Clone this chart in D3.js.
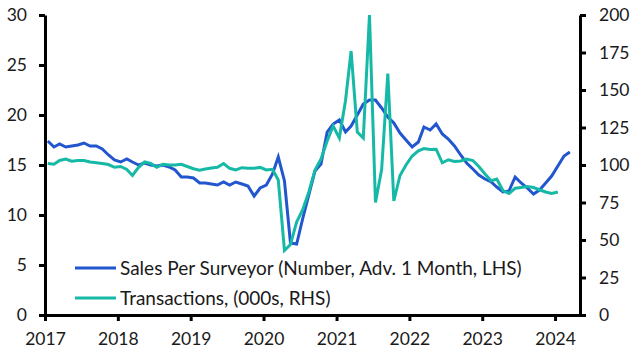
<!DOCTYPE html>
<html>
<head>
<meta charset="utf-8">
<script src="https://cdn.jsdelivr.net/npm/d3@7"></script>
<style>
  html, body { margin: 0; padding: 0; background: #fff; }
  svg { display: block; }
  text { font-family: Lato, "Open Sans", sans-serif; fill: #1a1a1a; }
</style>
</head>
<body>
<svg id="chart" width="643" height="364"></svg>
<script>
// ---- Data (monthly, starting Jan 2017) ----
const startMonth = "2017-01";
// Sales per surveyor (Number, advanced 1 month, LHS), Jan 2017 - Mar 2024
const salesPerSurveyor = [
  17.4, 16.8, 17.1, 16.8, 16.9, 17.0, 17.2, 16.9, 16.9, 16.6, 16.0, 15.5,
  15.3, 15.6, 15.3, 15.0, 15.2, 15.0, 14.9, 15.0, 14.8, 14.5, 13.8, 13.8,
  13.7, 13.2, 13.2, 13.1, 13.0, 13.3, 13.0, 13.3, 13.1, 12.9, 11.9, 12.7,
  13.0, 14.1, 15.8, 13.4, 7.2, 7.1, 9.6, 12.0, 14.4, 15.1, 18.3, 19.1,
  19.5, 18.3, 18.9, 20.0, 21.1, 21.5, 21.5, 20.7, 19.8, 19.2, 18.2, 17.5,
  16.8, 17.3, 18.8, 18.5, 19.1, 18.1, 17.6, 16.9, 16.0, 15.2, 14.6, 14.0,
  13.6, 13.3, 12.8, 12.3, 12.4, 13.8, 13.2, 12.7, 12.1, 12.5, 13.2, 13.9,
  14.9, 15.9, 16.3
];
// Transactions (000s, RHS), Jan 2017 - Jan 2024
const transactions = [
  101, 100.5, 103, 104, 102.5, 103, 103, 102, 101.5, 101, 100.3, 98.5,
  99, 97, 93, 98.5, 102, 101, 98.5, 100.5, 100, 100, 100.5, 99,
  97.5, 96.5, 97.3, 98, 98.5, 101, 97.8, 96.7, 98.2, 97.8, 97.9, 98.4,
  96.7, 97.1, 90, 43, 47, 62, 70, 82, 96.7, 104, 116, 126,
  118, 143, 176, 122, 118, 200, 75, 97, 161, 76, 93, 100,
  106, 109.5, 111, 110.4, 110.5, 101.5, 103.5, 102.3, 102.7, 104, 103, 99,
  94, 89.5, 90.7, 83, 81, 84.5, 85, 85.6, 85, 83.5, 82, 81,
  82
];
const xTickYears = [2017, 2018, 2019, 2020, 2021, 2022, 2023, 2024];
const leftTicks = [0, 5, 10, 15, 20, 25, 30];
const rightTicks = [0, 25, 50, 75, 100, 125, 150, 175, 200];
const seriesNames = ["Sales Per Surveyor (Number, Adv. 1 Month, LHS)", "Transactions, (000s, RHS)"];
const seriesColors = ["#2256cf", "#16b9a6"];

// ---- Layout ----
const svg = d3.select("#chart");
const L = 45, R = 580, T = 15, B = 315;

const parseMonth = d3.timeParse("%Y-%m");
const start = parseMonth(startMonth);
const monthDate = i => { const d = d3.timeMonth.offset(start, i); return new Date(d.getFullYear(), d.getMonth(), 15); };

const x = d3.scaleTime()
  .domain([new Date(2017, 0, 1), new Date(2024, 4, 5)])
  .range([L, R]);
const yL = d3.scaleLinear().domain([0, 30]).range([B, T]);
const yR = d3.scaleLinear().domain([0, 200]).range([B, T]);

const fontSize = 17.5;
const legendFontSize = 19;

// Lines
const lineL = d3.line().x((d, i) => x(monthDate(i))).y(d => yL(d));
const lineR = d3.line().x((d, i) => x(monthDate(i))).y(d => yR(d));

svg.append("path").datum(salesPerSurveyor)
  .attr("d", lineL).attr("fill", "none")
  .attr("stroke", seriesColors[0]).attr("stroke-width", 3);
svg.append("path").datum(transactions)
  .attr("d", lineR).attr("fill", "none")
  .attr("stroke", seriesColors[1]).attr("stroke-width", 3);

// Axes
function styleAxis(g) {
  g.select(".domain").attr("stroke", "#000").attr("stroke-width", 3);
  g.selectAll(".tick line").attr("stroke", "#000").attr("stroke-width", 3);
  g.selectAll(".tick text").attr("font-size", fontSize).attr("fill", "#1a1a1a")
    .style("font-family", "Lato, 'Open Sans', sans-serif");
}

const xAxis = d3.axisBottom(x)
  .tickValues(xTickYears.map(y => new Date(y, 0, 1)))
  .tickFormat(d3.timeFormat("%Y"))
  .tickSizeInner(6).tickSizeOuter(0).tickPadding(12);
svg.append("g").attr("transform", `translate(0,${B})`).call(xAxis).call(styleAxis);

const leftAxis = d3.axisLeft(yL).tickValues(leftTicks)
  .tickSizeInner(6).tickSizeOuter(0).tickPadding(12);
svg.append("g").attr("transform", `translate(${L},0)`).call(leftAxis).call(styleAxis);

const rightAxis = d3.axisRight(yR).tickValues(rightTicks)
  .tickSizeInner(6).tickSizeOuter(0).tickPadding(13);
svg.append("g").attr("transform", `translate(${R},0)`).call(rightAxis).call(styleAxis);

// Legend
const legend = svg.append("g");
seriesNames.forEach((name, i) => {
  const ly = 268 + i * 30;
  legend.append("line").attr("x1", 75).attr("x2", 116).attr("y1", ly).attr("y2", ly)
    .attr("stroke", seriesColors[i]).attr("stroke-width", 3);
  legend.append("text").attr("x", 120).attr("y", ly).attr("dy", "0.35em")
    .attr("font-size", legendFontSize).text(name);
});
</script>
</body>
</html>
